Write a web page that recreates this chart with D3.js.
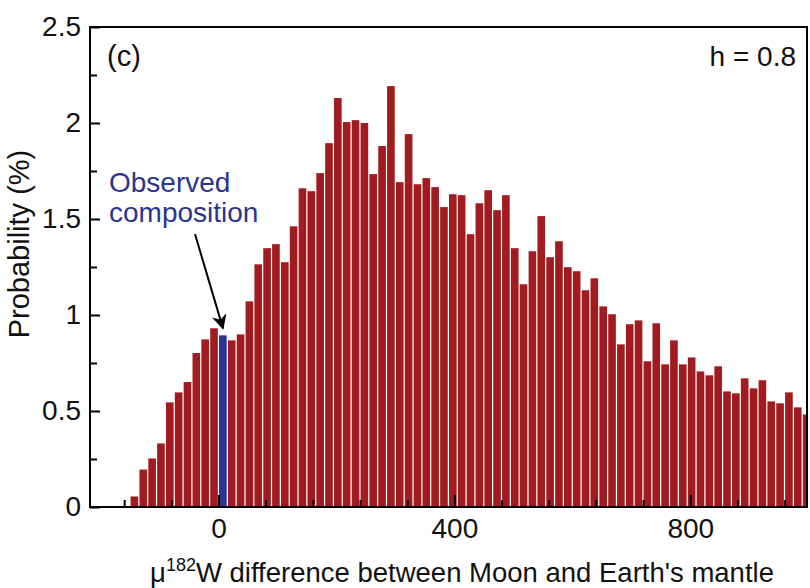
<!DOCTYPE html>
<html><head><meta charset="utf-8">
<script src="https://cdn.jsdelivr.net/npm/d3@7"></script>
<style>
body{margin:0;background:#fff}
svg{display:block}
text{font-family:"Liberation Sans",Arial,Helvetica,sans-serif;fill:#111}
</style>
</head><body>
<svg id="chart" width="810" height="588"></svg>
<script>
// ---- data ----
const binStart = -150;      // left edge of first bin (μ182W)
const binWidth = 15;        // bin width
const probabilities = [
  0.055,0.195,0.253,0.331,0.545,0.597,0.651,0.802,0.873,0.931,
  0.894,0.868,0.899,1.071,1.264,1.348,1.369,1.275,1.462,1.660,
  1.645,1.739,1.895,2.130,2.005,2.015,2.000,1.734,1.880,2.192,
  1.692,1.942,1.681,1.713,1.666,1.562,1.629,1.624,1.421,1.582,
  1.650,1.546,1.624,1.348,1.160,1.332,1.515,1.301,1.384,1.249,
  1.228,1.129,1.191,1.045,1.004,0.847,0.952,0.972,0.759,0.957,
  0.743,0.868,0.743,0.779,0.706,0.686,0.733,0.602,0.592,0.670,
  0.618,0.660,0.550,0.540,0.597,0.519,0.482
];
const observedBinStart = 0;           // bin holding the observed composition
const yTickValues = [0, 0.5, 1, 1.5, 2, 2.5];
const yTickLabels = ["0", "0.5", "1", "1.5", "2", "2.5"];
const xTickValues = [0, 400, 800];
const xTickLabels = ["0", "400", "800"];
const xMinorStep = 80;
const yMinorStep = 0.25;
const panelLabel = "(c)";
const hLabel = "h = 0.8";
const annotation = ["Observed", "composition"];

// ---- layout ----
const L = 90, R = 807, T = 27, B = 507;
const RED = "#a11c21", BLUE = "#2b3590";
const FS = 28;

const svg = d3.select("#chart");
const x = d3.scaleLinear().domain([-218, 998]).range([L, R]);
const y = d3.scaleLinear().domain([0, 2.5]).range([B, T]);

svg.append("defs").append("clipPath").attr("id","plotclip")
  .append("rect").attr("x",L).attr("y",T).attr("width",R-L).attr("height",B-T);

const bins = probabilities.map((p,i)=>({x0: binStart + i*binWidth, p}));

svg.append("g").attr("clip-path","url(#plotclip)")
  .selectAll("rect").data(bins).join("rect")
  .attr("x", d => x(d.x0) + 0.5)
  .attr("width", d => x(d.x0 + binWidth) - x(d.x0) - 1.2)
  .attr("y", d => y(d.p))
  .attr("height", d => y(0) - y(d.p))
  .attr("fill", d => d.x0 === observedBinStart ? BLUE : RED);

// ---- axes ----
const minorY = d3.range(0, 2.5 + 1e-9, yMinorStep).filter(v => Math.abs(v*2 - Math.round(v*2)) > 1e-6);
const minorX = d3.range(Math.ceil(-218/xMinorStep)*xMinorStep, 998, xMinorStep).filter(v => v % 400 !== 0);

const yAxis = d3.axisLeft(y).tickValues(yTickValues)
  .tickFormat((d,i)=>yTickLabels[i]).tickSizeInner(-10).tickSizeOuter(0).tickPadding(9);
svg.append("g").attr("transform",`translate(${L},0)`).call(yAxis);
svg.append("g").attr("transform",`translate(${L},0)`)
  .call(d3.axisLeft(y).tickValues(minorY).tickFormat("").tickSizeInner(-7).tickSizeOuter(0));

const xAxis = d3.axisBottom(x).tickValues(xTickValues)
  .tickFormat((d,i)=>xTickLabels[i]).tickSizeInner(-12).tickSizeOuter(0).tickPadding(11);
svg.append("g").attr("transform",`translate(0,${B})`).call(xAxis);
svg.append("g").attr("transform",`translate(0,${B})`)
  .call(d3.axisBottom(x).tickValues(minorX).tickFormat("").tickSizeInner(-7).tickSizeOuter(0));

svg.selectAll(".domain").remove();
svg.selectAll(".tick line").attr("stroke","#000").attr("stroke-width",2);
svg.selectAll(".tick text").attr("font-size",FS).attr("fill","#111");

// frame
svg.append("rect").attr("x",L).attr("y",T).attr("width",R-L).attr("height",B-T)
  .attr("fill","none").attr("stroke","#000").attr("stroke-width",2);

// ---- labels ----
svg.append("text").attr("x",107).attr("y",66).attr("font-size",29).text(panelLabel);
svg.append("text").attr("x",796).attr("y",66).attr("font-size",FS).attr("text-anchor","end").text(hLabel);

svg.append("text").attr("x",109).attr("y",192).attr("font-size",28).style("fill",BLUE).text(annotation[0]);
svg.append("text").attr("x",109).attr("y",222).attr("font-size",28).style("fill",BLUE).text(annotation[1]);

// arrow to observed bin
const obs = bins.find(d => d.x0 === observedBinStart);
const tipX = x(obs.x0 + binWidth/2), tipY = y(obs.p) - 7;
const startX = 195, startY = 234;
svg.append("defs").append("marker").attr("id","ah").attr("viewBox","0 0 10 10")
  .attr("refX",9).attr("refY",5).attr("markerWidth",17).attr("markerHeight",15)
  .attr("markerUnits","userSpaceOnUse").attr("orient","auto")
  .append("path").attr("d","M0,0 L10,5 L0,10 L3,5 Z").attr("fill","#000");
svg.append("line").attr("x1",startX).attr("y1",startY).attr("x2",tipX).attr("y2",tipY)
  .attr("stroke","#000").attr("stroke-width",2).attr("marker-end","url(#ah)");

// axis titles
const xt = svg.append("text").attr("x",462).attr("y",582).attr("font-size",27.5).attr("text-anchor","middle");
xt.append("tspan").text("μ");
xt.append("tspan").attr("dy",-11).attr("font-size",18).text("182");
xt.append("tspan").attr("dy",11).text("W difference between Moon and Earth's mantle");

svg.append("text").attr("transform","translate(29,244) rotate(-90)").attr("text-anchor","middle")
  .attr("font-size",29).text("Probability (%)");
</script>
</body></html>
